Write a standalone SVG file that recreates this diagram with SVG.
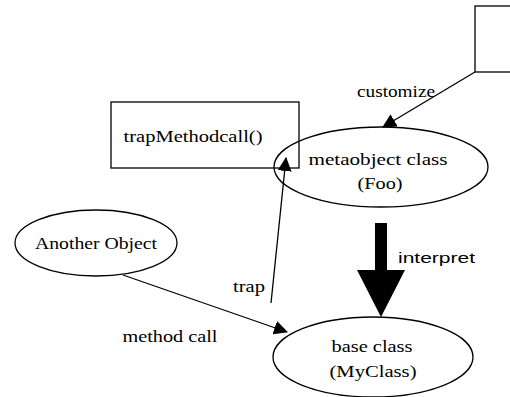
<svg xmlns="http://www.w3.org/2000/svg" width="510" height="397" viewBox="0 0 510 397">
<defs>
<style>
.n{fill:none;stroke:#000;stroke-width:1.3}
.t{font-family:"Liberation Serif","Times New Roman",serif;font-size:16px;fill:#000;text-anchor:middle}
.s{font-family:"Liberation Sans",Arial,sans-serif;font-size:15px;fill:#000}
.c{fill:none;stroke:#000;stroke-width:1.3}
</style>
<marker id="ah" viewBox="0 0 14 14" refX="13" refY="7" markerWidth="14" markerHeight="14" markerUnits="userSpaceOnUse" orient="auto">
<path d="M0,0 L14,7 L0,14 z" fill="#000"/>
</marker>
</defs>
<rect width="510" height="397" fill="#fff"/>
<g id="box-custom">
<rect class="n" x="475" y="6" width="45" height="66"/>
</g>
<g id="box-trap">
<rect class="n" x="111" y="102" width="188" height="66"/>
<text class="t" x="193" y="142" textLength="139" lengthAdjust="spacingAndGlyphs">trapMethodcall()</text>
</g>
<g id="metaobject">
<ellipse class="n" cx="381" cy="167" rx="107" ry="40"/>
<text class="t" x="378" y="165" textLength="139" lengthAdjust="spacingAndGlyphs">metaobject  class</text>
<text class="t" x="380" y="189" textLength="45" lengthAdjust="spacingAndGlyphs">(Foo)</text>
</g>
<g id="another">
<ellipse class="n" cx="96" cy="243" rx="81" ry="33"/>
<text class="t" x="96" y="249" textLength="122" lengthAdjust="spacingAndGlyphs">Another Object</text>
</g>
<g id="base">
<ellipse class="n" cx="373" cy="357" rx="100" ry="40"/>
<text class="t" x="372" y="352" textLength="81" lengthAdjust="spacingAndGlyphs">base class</text>
<text class="t" x="373" y="377" textLength="87" lengthAdjust="spacingAndGlyphs">(MyClass)</text>
</g>
<g id="connectors">
<line class="c" x1="475" y1="72" x2="383" y2="127" marker-end="url(#ah)"/>
<line class="c" x1="271" y1="303" x2="286" y2="158" marker-end="url(#ah)"/>
<line class="c" x1="123" y1="275" x2="287" y2="332" marker-end="url(#ah)"/>
<polygon points="375,223 387,223 387,270 405,270 381,317 357,270 375,270" fill="#000"/>
<text class="t" x="396" y="97" textLength="78" lengthAdjust="spacingAndGlyphs">customize</text>
<text class="t" x="249" y="292" textLength="32" lengthAdjust="spacingAndGlyphs">trap</text>
<text class="t" x="170" y="342" textLength="95" lengthAdjust="spacingAndGlyphs">method call</text>
<text class="s" x="398" y="263" textLength="77" lengthAdjust="spacingAndGlyphs">interpret</text>
</g>
</svg>
